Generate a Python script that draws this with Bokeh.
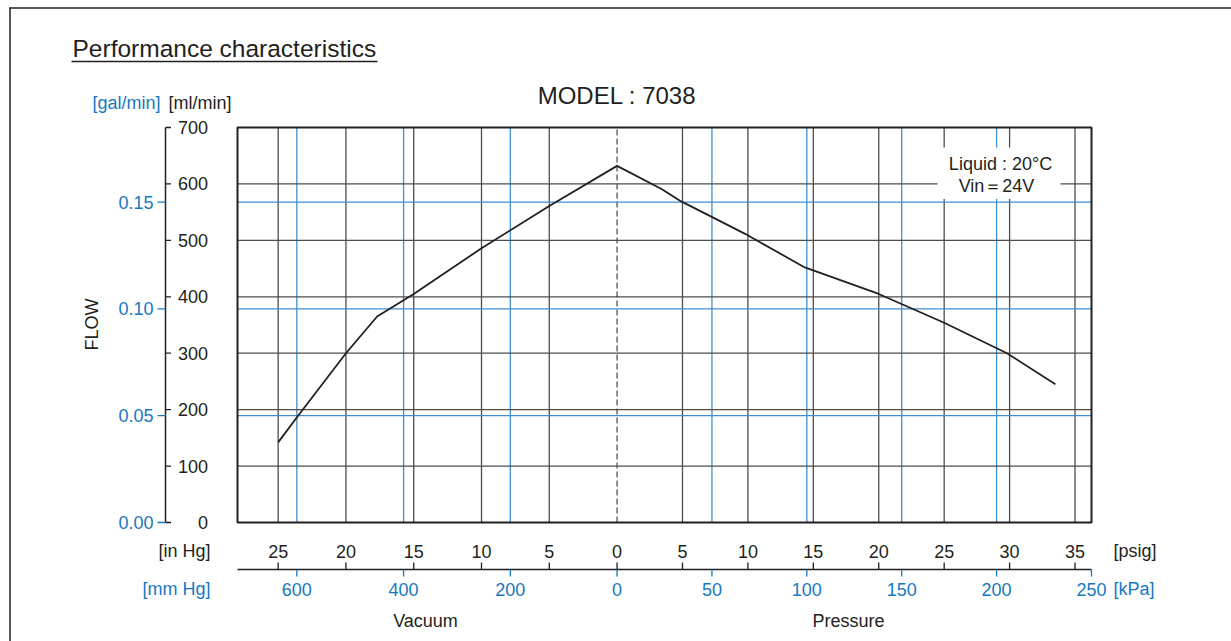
import math
from bokeh.plotting import figure
from bokeh.models import Range1d
from bokeh.core.properties import value
from bokeh.embed import file_html
from bokeh.resources import INLINE

# ---------------- data ----------------
flow_ticks_ml = [0, 100, 200, 300, 400, 500, 600, 700]
flow_ticks_gal = [0.00, 0.05, 0.10, 0.15]
gal_labels = ["0.00", "0.05", "0.10", "0.15"]
vac_inhg_ticks = [25, 20, 15, 10, 5, 0]
prs_psig_ticks = [5, 10, 15, 20, 25, 30, 35]
vac_mmhg_ticks = [600, 400, 200, 0]
prs_kpa_ticks = [50, 100, 150, 200, 250]

# curve: vacuum side (in Hg) and pressure side (psig), flow in ml/min
vac_inhg = [25, 23.6, 20, 17.7, 15, 10, 5, 0]
vac_flow = [142, 187, 300, 365, 405, 486, 561, 632]
prs_psig = [0, 3.4, 4.9, 7.2, 9.75, 12.05, 14.35, 15.1, 20, 25, 29.8, 33.5]
prs_flow = [632, 591, 569, 542, 512, 482, 452, 446, 405, 354, 300, 245]

# ---------------- unit conversions / scales ----------------
ML_PER_GAL = 3785.41
KPA_PER_PSI = 6.89476
MM_PER_IN = 25.4
VAC_SPAN_INHG = 28.0          # vacuum half of the axis spans 28 inHg
X_MIN, X_MAX = -200.0, 250.0  # pressure half in kPa, vacuum half in scaled units
Y_MIN, Y_MAX = 0.0, 700.0


def vx_in(v):
    return -v * (-X_MIN) / VAC_SPAN_INHG


def vx_mm(v):
    return vx_in(v / MM_PER_IN)


def px_psi(v):
    return v * KPA_PER_PSI


# page layout (pixels); the Bokeh frame covers the whole canvas
W, H = 1231, 641
FL, FR, FT, FB = 237, 1091, 127, 522   # plot box


def dx(px):
    return X_MIN + (px - FL) * (X_MAX - X_MIN) / (FR - FL)


def dy(py):
    return Y_MIN + (FB - py) * (Y_MAX - Y_MIN) / (FB - FT)


INK = "#231f20"
GRID_INK = "#4d4d4d"
BLUE = "#1878be"
BLUE_GRID = "#3f8fd0"
FONT = "Liberation Sans"

p = figure(width=W, height=H, x_range=Range1d(dx(0), dx(W)), y_range=Range1d(dy(H), dy(0)),
           x_axis_type=None, y_axis_type=None, output_backend="svg", toolbar_location=None,
           min_border_left=0, min_border_right=0, min_border_top=0, min_border_bottom=0)
p.background_fill_color = "white"
p.border_fill_color = "white"
p.outline_line_color = None


def texts(xs, ys, labels, color=INK, align="left", size="18px", angle=0.0):
    p.text(x=list(xs), y=list(ys), text=list(labels), text_font=value(FONT),
           text_font_size=value(size), text_color=color, text_align=align,
           text_baseline="middle", angle=angle)


def vsegs(xs, y0, y1, color, width, dash="solid"):
    xs = list(xs)
    p.segment(x0=xs, y0=[y0] * len(xs), x1=xs, y1=[y1] * len(xs),
              line_color=color, line_width=width, line_dash=dash)


def hsegs(ys, x0, x1, color, width):
    ys = list(ys)
    p.segment(x0=[x0] * len(ys), y0=ys, x1=[x1] * len(ys), y1=ys,
              line_color=color, line_width=width)


# ---------------- outer frame + titles ----------------
vsegs([dx(9.5)], dy(7), dy(H + 5), INK, 1.5)
hsegs([dy(7.5)], dx(9), dx(W + 5), INK, 1.5)
texts([dx(72)], [dy(48)], ["Performance characteristics"], size="24.5px")
hsegs([dy(61)], dx(71), dx(377), INK, 1.5)
texts([0.0], [dy(95)], ["MODEL : 7038"], size="24px", align="center")

# ---------------- grid ----------------
x_black = [vx_in(v) for v in vac_inhg_ticks if v != 0] + [px_psi(v) for v in prs_psig_ticks]
x_blue = [vx_mm(v) for v in vac_mmhg_ticks if v != 0] + [v for v in prs_kpa_ticks if v < X_MAX]
gal_pos = [g * ML_PER_GAL for g in flow_ticks_gal]
vsegs(x_black, Y_MIN, Y_MAX, GRID_INK, 1.3)
vsegs(x_blue, Y_MIN, Y_MAX, BLUE_GRID, 1.3)
vsegs([0.0], Y_MIN, Y_MAX, INK, 1, "6 3")
hsegs([v for v in flow_ticks_ml if Y_MIN < v < Y_MAX], X_MIN, X_MAX, GRID_INK, 1.3)
hsegs([g for g in gal_pos if g > 0], X_MIN, X_MAX, BLUE_GRID, 1.3)

# plot box
p.quad(left=[X_MIN], right=[X_MAX], bottom=[Y_MIN], top=[Y_MAX],
       fill_color=None, line_color=INK, line_width=2)

# ---------------- curve ----------------
curve_x = [vx_in(v) for v in vac_inhg] + [px_psi(v) for v in prs_psig[1:]]
curve_y = vac_flow + prs_flow[1:]
p.line(curve_x, curve_y, line_color=INK, line_width=1.8)

# ---------------- legend box ----------------
p.quad(left=[dx(937)], right=[dx(1060)], bottom=[dy(198.5)], top=[dy(147)],
       fill_color="white", line_color=None)
texts([dx(1000)], [dy(163)], ["Liquid : 20°C"], align="center")
texts([dx(996)], [dy(185)], ["Vin\uff1d24V"], align="center")

# ---------------- left (flow) axis ----------------
ax_x = dx(165)
vsegs([ax_x], Y_MIN, Y_MAX, INK, 1.5)
hsegs(flow_ticks_ml, ax_x, dx(170.5), INK, 1.3)
hsegs(gal_pos, dx(157), ax_x, BLUE, 1.3)
texts([dx(207.5)] * len(flow_ticks_ml), flow_ticks_ml, [str(v) for v in flow_ticks_ml], align="right")
texts([dx(153)] * len(gal_pos), gal_pos, gal_labels, color=BLUE, align="right")
texts([dx(160)], [dy(102.5)], ["[gal/min]"], color=BLUE, align="right")
texts([dx(168)], [dy(102.5)], ["[ml/min]"])
texts([dx(91)], [dy(324)], ["FLOW"], align="center", angle=math.pi / 2)

# ---------------- bottom (pressure) axis ----------------
ax_y = dy(569)
top_pos = [vx_in(v) for v in vac_inhg_ticks] + [px_psi(v) for v in prs_psig_ticks]
top_lab = [str(v) for v in vac_inhg_ticks] + [str(v) for v in prs_psig_ticks]
bot_pos = [vx_mm(v) for v in vac_mmhg_ticks] + [v for v in prs_kpa_ticks]
bot_lab = [str(v) for v in vac_mmhg_ticks] + [str(v) for v in prs_kpa_ticks]
hsegs([ax_y], X_MIN, X_MAX, INK, 1.5)
vsegs(top_pos, ax_y, dy(562), INK, 1.3)
vsegs(bot_pos, ax_y, dy(576), BLUE, 1.3)
texts(top_pos, [dy(550.5)] * len(top_pos), top_lab, align="center")
texts(bot_pos, [dy(588.5)] * len(bot_pos), bot_lab, color=BLUE, align="center")
texts([dx(210)], [dy(550.5)], ["[in Hg]"], align="right")
texts([dx(210)], [dy(588.5)], ["[mm Hg]"], color=BLUE, align="right")
texts([dx(1113)], [dy(550.5)], ["[psig]"])
texts([dx(1113)], [dy(588.5)], ["[kPa]"], color=BLUE)
texts([dx(425)], [dy(620.5)], ["Vacuum"], align="center")
texts([dx(848)], [dy(620.5)], ["Pressure"], align="center")

open("out.html", "w").write(file_html(p, INLINE))
